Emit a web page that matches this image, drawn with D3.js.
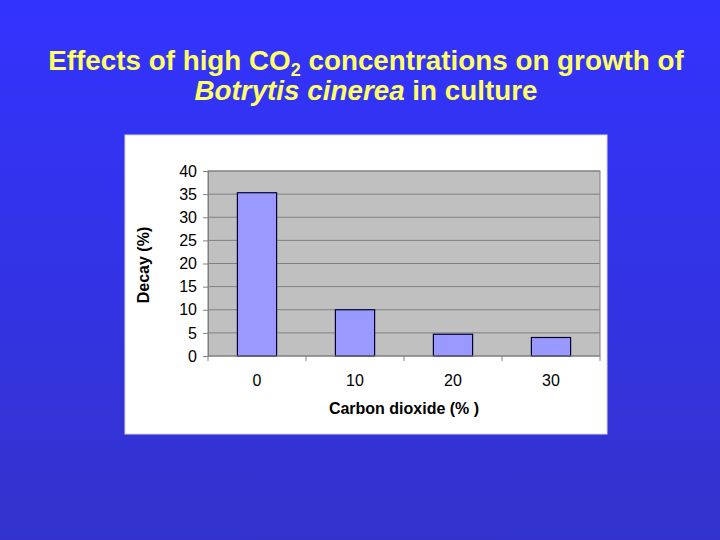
<!DOCTYPE html>
<html>
<head>
<meta charset="utf-8">
<script src="https://cdn.jsdelivr.net/npm/d3@7"></script>
<style>
  html, body { margin: 0; padding: 0; }
  body { width: 720px; height: 540px; overflow: hidden; }
</style>
</head>
<body>
<svg id="chart"></svg>
<script>
// chart data
var co2Levels = ["0", "10", "20", "30"];
var decayValues = [35.3, 10, 4.7, 4];
var yTickValues = [0, 5, 10, 15, 20, 25, 30, 35, 40];

var W = 720, H = 540;
var svg = d3.select("#chart").attr("width", W).attr("height", H);

// blue slide background
var defs = svg.append("defs");
var grad = defs.append("linearGradient").attr("id", "bg")
  .attr("x1", 0).attr("y1", 0).attr("x2", 0).attr("y2", 1);
grad.append("stop").attr("offset", "0%").attr("stop-color", "#3333ff");
grad.append("stop").attr("offset", "100%").attr("stop-color", "#3333cc");
svg.append("rect").attr("width", W).attr("height", H).attr("fill", "url(#bg)");

// title
var title = svg.append("text")
  .attr("text-anchor", "middle")
  .style("font-family", "Arial, 'Liberation Sans', sans-serif")
  .style("font-weight", "bold")
  .style("font-size", "27.8px")
  .attr("fill", "#ffff66");
var l1 = title.append("tspan").attr("x", 366).attr("y", 70);
l1.append("tspan").text("Effects of high CO");
l1.append("tspan").attr("dy", 6).style("font-size", "18px").text("2");
l1.append("tspan").attr("dy", -6).text(" concentrations on growth of");
var l2 = title.append("tspan").attr("x", 366).attr("y", 100);
l2.append("tspan").style("font-style", "italic").text("Botrytis cinerea");
l2.append("tspan").text(" in culture");

// white chart panel
svg.append("rect")
  .attr("x", 125).attr("y", 135).attr("width", 482).attr("height", 299)
  .attr("fill", "#ffffff").attr("stroke", "#d8d8e8");

var plotL = 208, plotR = 600, plotT = 171, plotB = 356;

var x = d3.scaleBand().domain(co2Levels).range([plotL, plotR]).paddingInner(0.6).paddingOuter(0.3);
var xOuter = d3.scaleBand().domain(co2Levels).range([plotL, plotR]);
var y = d3.scaleLinear().domain([0, 40]).range([plotB, plotT]);

var g = svg.append("g")
  .style("font-family", "Arial, 'Liberation Sans', sans-serif");

// plot area
g.append("rect")
  .attr("x", plotL).attr("y", plotT).attr("width", plotR - plotL).attr("height", plotB - plotT)
  .attr("fill", "#c0c0c0").attr("stroke", "#808080");

// gridlines
g.selectAll(".grid").data(yTickValues.slice(1)).enter().append("line")
  .attr("x1", plotL).attr("x2", plotR)
  .attr("y1", function(d){ return y(d); }).attr("y2", function(d){ return y(d); })
  .attr("stroke", "#808080").attr("stroke-width", 1);

// bars
g.selectAll(".bar").data(decayValues).enter().append("rect")
  .attr("x", function(d, i){ return x(co2Levels[i]); })
  .attr("width", x.bandwidth())
  .attr("y", function(d){ return y(d); })
  .attr("height", function(d){ return y(0) - y(d); })
  .attr("fill", "#9999ff").attr("stroke", "#000033").attr("stroke-width", 1.2);

// y axis
var yAxis = d3.axisLeft(y).tickValues(yTickValues).tickSize(5).tickPadding(6);
var ya = g.append("g").attr("transform", "translate(" + plotL + ",0)").call(yAxis);
ya.select(".domain").attr("stroke", "#808080");
ya.selectAll(".tick line").attr("stroke", "#808080");
ya.selectAll("text").style("font-size", "16px").attr("fill", "#000");

// x axis (ticks between categories)
var xa = g.append("g").attr("transform", "translate(0," + plotB + ")");
xa.append("line").attr("x1", plotL).attr("x2", plotR).attr("stroke", "#808080");
var bounds = co2Levels.map(function(c){ return xOuter(c); }).concat([plotR]);
xa.selectAll(".xt").data(bounds).enter().append("line")
  .attr("x1", function(d){ return d; }).attr("x2", function(d){ return d; })
  .attr("y1", 0).attr("y2", 5).attr("stroke", "#808080");
xa.selectAll(".xl").data(co2Levels).enter().append("text")
  .attr("x", function(d){ return xOuter(d) + xOuter.bandwidth() / 2; })
  .attr("y", 30)
  .attr("text-anchor", "middle")
  .style("font-size", "16px")
  .text(function(d){ return d; });

// axis titles
g.append("text")
  .attr("x", 404).attr("y", 414)
  .attr("text-anchor", "middle")
  .style("font-size", "16px").style("font-weight", "bold")
  .text("Carbon dioxide (% )");
g.append("text")
  .attr("transform", "translate(149,265) rotate(-90)")
  .attr("text-anchor", "middle")
  .style("font-size", "16px").style("font-weight", "bold")
  .text("Decay (%)");
</script>
</body>
</html>
